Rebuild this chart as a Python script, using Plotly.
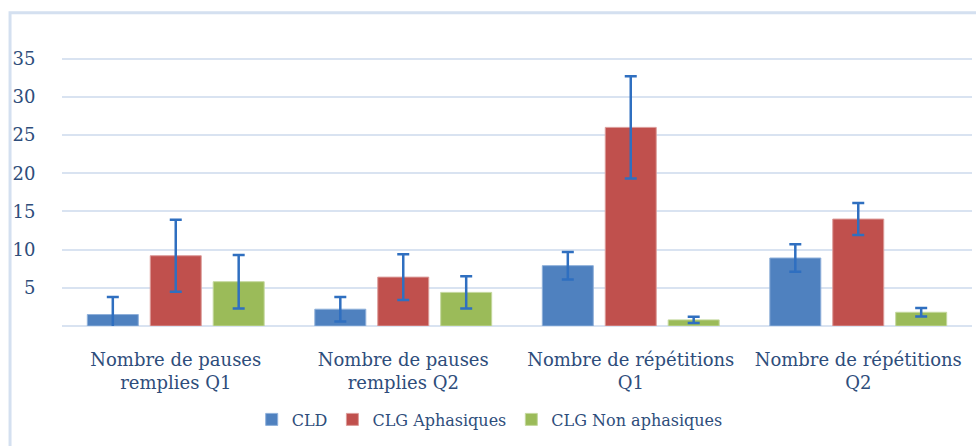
import plotly.graph_objects as go

categories = ["Nombre de pauses<br>remplies Q1", "Nombre de pauses<br>remplies Q2",
              "Nombre de répétitions<br>Q1", "Nombre de répétitions<br>Q2"]
series_names = ["CLD", "CLG Aphasiques", "CLG Non aphasiques"]
cld = [1.5, 2.2, 7.9, 8.9]
cld_err = [2.3, 1.6, 1.8, 1.8]
aph = [9.2, 6.4, 26.0, 14.0]
aph_err = [4.7, 3.0, 6.7, 2.1]
non = [5.8, 4.4, 0.8, 1.8]
non_err = [3.5, 2.1, 0.4, 0.55]
tick_vals = [5, 10, 15, 20, 25, 30, 35]

colors = ["#4f81bf", "#c0504d", "#9bbb59"]
lines = ["#8fb0da", "#dc9c9a", "#c4d89e"]
err_color = "#2f6fc0"
text_color = "#2e4d7b"
font_family = "DejaVu Serif"

fig = go.Figure()
for name, vals, errs, c, lc in zip(series_names,
                                   [cld, aph, non], [cld_err, aph_err, non_err], colors, lines):
    fig.add_trace(go.Bar(
        x=categories, y=vals, name=name,
        marker=dict(color=c, line=dict(color=lc, width=1)),
        error_y=dict(type="data", array=errs, visible=True, color=err_color,
                     thickness=2.5, width=6),
    ))

fig.update_layout(
    width=976, height=446,
    margin=dict(l=62, r=4, t=51, b=120),
    paper_bgcolor="white", plot_bgcolor="white",
    barmode="group", bargap=0.17, bargroupgap=0.19,
    font=dict(family=font_family, color=text_color, size=17),
    showlegend=True,
    legend=dict(orientation="h", x=0.47, xanchor="center", y=-0.34, yanchor="middle",
                font=dict(size=16, color=text_color), itemwidth=30,
                traceorder="normal"),
    xaxis=dict(showgrid=False, showline=False, zeroline=False,
               ticks="outside", ticklen=17, tickcolor="rgba(0,0,0,0)",
               tickfont=dict(size=18, color=text_color)),
    yaxis=dict(range=[0, 36], tickvals=tick_vals, showgrid=True, gridcolor="#d9e3f1",
               gridwidth=2, zeroline=True, zerolinecolor="#d9e3f1", zerolinewidth=2,
               showline=False, ticks="outside", ticklen=22, tickcolor="rgba(0,0,0,0)",
               tickfont=dict(size=18, color=text_color)),
    shapes=[dict(type="rect", xref="paper", yref="paper",
                 x0=-0.0571, x1=1.02, y0=-0.5, y1=1.139,
                 line=dict(color="#d4e0f0", width=3), layer="below")],
)

fig.write_html("out.html", config={"displayModeBar": False},
               post_script="document.body.style.margin='0px';")
